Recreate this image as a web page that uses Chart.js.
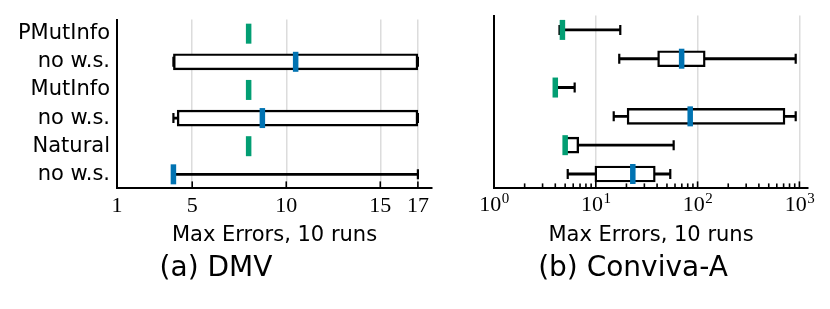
<!DOCTYPE html>
<html>
<head>
<meta charset="utf-8">
<script src="https://cdn.jsdelivr.net/npm/chart.js@4.4.1/dist/chart.umd.min.js"></script>
<style>
  body { margin: 0; background: #fff; }
  #wrap { position: relative; width: 830px; height: 309px; }
  #dmv { position: absolute; left: 0; top: 0; }
  #conviva { position: absolute; left: 458px; top: 0; }
</style>
</head>
<body>
<div id="wrap">
  <canvas id="dmv" width="458" height="309"></canvas>
  <canvas id="conviva" width="372" height="309"></canvas>
</div>
<script>
// rows, top to bottom
const rows = ['PMutInfo', 'no w.s.', 'MutInfo', 'no w.s.', 'Natural', 'no w.s.'];

// (a) DMV -- linear axis
const dmvLo  = [8, 4, 8, 4.0, 8, 4];
const dmvQ1  = [8, 4, 8, 4.2, 8, 4];
const dmvMed = [8, 10.5, 8, 8.73, 8, 4];
const dmvQ3  = [8, 17, 8, 17, 8, 4];
const dmvHi  = [8, 17, 8, 17, 8, 17];
const dmvTicks = [1, 5, 10, 15, 17];

// (b) Conviva-A -- log axis
const convLo  = [4.4, 17.0, 4.0, 15.0, 5.0, 5.3];
const convQ1  = [4.5, 40.5, 4.0, 20.3, 5.0, 9.8];
const convMed = [4.7, 69.7, 4.0, 84.6, 5.0, 23.1];
const convQ3  = [4.8, 118.8, 4.1, 722, 6.8, 38.4];
const convHi  = [17.4, 920, 6.2, 920, 58.2, 53.9];
const convExp = [0, 1, 2, 3];

const GREEN = '#029E73';
const BLUE = '#0173B2';
const GRID = '#dcdcdc';
const SANS = 'DejaVu Sans';
const SERIF = 'Liberation Serif';

function isPow10(v) {
  const l = Math.log10(v);
  return Math.abs(l - Math.round(l)) < 1e-9;
}

// whisker cap: one point per row, so the data index is the row index
function capSet(vals) {
  return {
    type: 'scatter',
    data: vals.map((v, i) => ({ x: v, y: i })),
    pointStyle: 'line',
    pointRotation: 90,
    pointRadius: 5,
    pointBorderWidth: 2.2,
    pointBorderColor: '#000'
  };
}

// boxplot made from floating bars + scatter markers
// first dataset is drawn on top
function boxDatasets(lo, q1, med, q3, hi) {
  return [
    {
      type: 'scatter',
      data: med.map((v, i) => ({ x: v, y: i })),
      pointStyle: 'line',
      pointRotation: 90,
      pointRadius: 10,
      pointBorderWidth: 5.5,
      pointBorderColor: med.map((v, i) => (i % 2 ? BLUE : GREEN))
    },
    {
      type: 'bar',
      data: q1.map((v, i) => [v, q3[i]]),
      backgroundColor: '#fff',
      borderColor: '#000',
      borderWidth: 2.4,
      borderSkipped: false,
      barThickness: 16,
      grouped: false
    },
    capSet(lo),
    capSet(hi),
    {
      type: 'bar',
      data: lo.map((v, i) => [v, hi[i]]),
      backgroundColor: '#000',
      borderWidth: 0,
      barThickness: 2.2,
      grouped: false
    }
  ];
}

// inward tick marks on the x axis
const innerTicks = {
  id: 'innerTicks',
  afterDraw(chart) {
    const s = chart.scales.x, ctx = chart.ctx, y0 = chart.chartArea.bottom;
    const log = s.type === 'logarithmic';
    ctx.save();
    ctx.strokeStyle = '#000';
    ctx.lineWidth = 1.6;
    s.ticks.forEach(t => {
      const x = s.getPixelForValue(t.value);
      const len = (!log || isPow10(t.value)) ? 7 : 5;
      ctx.beginPath();
      ctx.moveTo(x, y0);
      ctx.lineTo(x, y0 - len);
      ctx.stroke();
    });
    ctx.restore();
  }
};

// 10^n labels for the log axis
const powLabels = {
  id: 'powLabels',
  afterDraw(chart) {
    const s = chart.scales.x, ctx = chart.ctx;
    ctx.save();
    ctx.fillStyle = '#000';
    ctx.textBaseline = 'alphabetic';
    ctx.textAlign = 'left';
    convExp.forEach(e => {
      const x = s.getPixelForValue(Math.pow(10, e));
      ctx.font = '22px "' + SERIF + '"';
      const wb = ctx.measureText('10').width;
      ctx.font = '15px "' + SERIF + '"';
      const we = ctx.measureText(String(e)).width;
      const x0 = x - (wb + we) / 2;
      ctx.font = '22px "' + SERIF + '"';
      ctx.fillText('10', x0, 211);
      ctx.font = '15px "' + SERIF + '"';
      ctx.fillText(String(e), x0 + wb + 0.5, 203);
    });
    ctx.restore();
  }
};

function makeChart(id, datasets, xScale, yTicks, yWidth, padRight, title, plugins) {
  return new Chart(document.getElementById(id), {
    type: 'bar',
    data: { labels: rows, datasets: datasets },
    options: {
      responsive: false,
      animation: false,
      events: [],
      indexAxis: 'y',
      devicePixelRatio: 1,
      layout: { padding: { top: 13, right: padRight, bottom: 23, left: 0 } },
      scales: {
        x: xScale,
        y: {
          type: 'category',
          offset: true,
          grid: { display: false, drawTicks: false },
          border: { color: '#000', width: 2 },
          ticks: yTicks,
          afterFit: s => { s.width = yWidth; }
        }
      },
      plugins: {
        legend: { display: false },
        tooltip: { enabled: false },
        title: {
          display: true,
          position: 'bottom',
          text: title,
          color: '#000',
          font: { family: SANS, size: 28, weight: 'normal' },
          padding: 0
        }
      }
    },
    plugins: plugins
  });
}

const xTitle = {
  display: true,
  text: 'Max Errors, 10 runs',
  color: '#000',
  font: { family: SANS, size: 21 },
  padding: { top: 0, bottom: 4 }
};

makeChart('dmv', boxDatasets(dmvLo, dmvQ1, dmvMed, dmvQ3, dmvHi), {
  type: 'linear',
  min: 1,
  max: 17.75,
  afterBuildTicks: s => { s.ticks = dmvTicks.map(v => ({ value: v })); },
  grid: { color: GRID, lineWidth: 1.5, drawTicks: false },
  border: { color: '#000', width: 2 },
  ticks: { font: { family: SERIF, size: 22 }, color: '#000', padding: 5, autoSkip: false, maxRotation: 0 },
  title: xTitle,
  afterFit: s => { s.height = 64; }
}, { font: { family: SANS, size: 21 }, color: '#000', padding: 7, autoSkip: false }, 117, 26, '(a) DMV', [innerTicks]);

makeChart('conviva', boxDatasets(convLo, convQ1, convMed, convQ3, convHi), {
  type: 'logarithmic',
  min: 1,
  max: 1215,
  afterBuildTicks: s => {
    const t = [];
    convExp.forEach((e, k) => {
      for (let m = 1; m < 10; m++) {
        if (k === convExp.length - 1 && m > 1) break;
        t.push({ value: m * Math.pow(10, e) });
      }
    });
    s.ticks = t;
  },
  grid: {
    color: c => (c.tick && isPow10(c.tick.value) ? GRID : 'rgba(0,0,0,0)'),
    lineWidth: 1.5,
    drawTicks: false
  },
  border: { color: '#000', width: 2 },
  ticks: { display: false },
  title: xTitle,
  afterFit: s => { s.height = 64; }
}, { display: false }, 36, 22, '(b) Conviva-A', [innerTicks, powLabels]);
</script>
</body>
</html>
